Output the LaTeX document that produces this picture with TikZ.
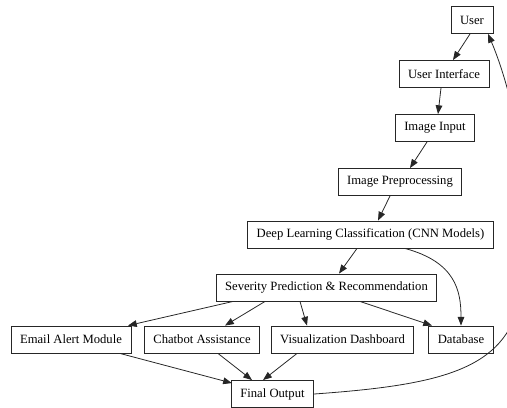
\documentclass[tikz,border=0pt]{standalone}
\usepackage{fontspec}
\setmainfont{Liberation Serif}
\usetikzlibrary{arrows.meta}
\begin{document}
\begin{tikzpicture}[x=0.02cm,y=-0.02cm,
    box/.style={draw=black!85,line width=0.5pt,minimum height=0.54cm,inner xsep=0.18cm,font=\fontsize{7.2}{8.6}\selectfont},
    edge/.style={-{Triangle[length=5pt,width=3.8pt]},line width=0.45pt,draw=black!85}]
        \useasboundingbox (0,0) rectangle (507,407);

        \node[box] (user) at (472,20) {User};
        \node[box] (ui) at (444,74) {User Interface};
        \node[box] (input) at (435,128) {Image Input};
        \node[box] (prep) at (400,182) {Image Preprocessing};
        \node[box] (dl) at (370.5,234.5) {Deep Learning Classification (CNN Models)};
        \node[box] (sev) at (326.5,287.5) {Severity Prediction \& Recommendation};
        \node[box] (email) at (71,339.5) {Email Alert Module};
        \node[box] (chat) at (202,339.5) {Chatbot Assistance};
        \node[box] (vis) at (342.5,339.5) {Visualization Dashboard};
        \node[box] (db) at (461,339.5) {Database};
        \node[box] (final) at (272.5,394) {Final Output};

        \draw[edge] ([xshift=-0.04cm]user.south) -- ([xshift=0.18cm]ui.north);
        \draw[edge] ([xshift=-0.06cm]ui.south) -- ([xshift=0.06cm]input.north);
        \draw[edge] ([xshift=-0.16cm]input.south) -- ([xshift=0.2cm]prep.north);
        \draw[edge] ([xshift=-0.2cm]prep.south) -- ([xshift=0.15cm]dl.north);
        \draw[edge] ([xshift=-0.27cm]dl.south) -- ([xshift=0.25cm]sev.north);
        \draw[edge] ([xshift=0.69cm]dl.south) .. controls (455,262) and (461,290) .. (db.north);

        \draw[edge] ([xshift=-1.87cm]sev.south) -- ([xshift=1.14cm]email.north);
        \draw[edge] ([xshift=-1.23cm]sev.south) -- ([xshift=0.46cm]chat.north);
        \draw[edge] ([xshift=-0.53cm]sev.south) -- ([xshift=-0.71cm]vis.north);
        \draw[edge] ([xshift=0.67cm]sev.south) -- ([xshift=-0.58cm]db.north);

        \draw[edge] ([xshift=0.98cm]email.south) -- ([xshift=0.02cm,yshift=-0.06cm]final.north west);
        \draw[edge] ([xshift=0.32cm]chat.south) -- ([xshift=-0.41cm]final.north);
        \draw[edge] ([xshift=-0.91cm]vis.south) -- ([xshift=-0.19cm]final.north);

        \draw[edge] (final.east) .. controls (440,385) and (505,370) .. (520,300)
            .. controls (541,200) and (510,85) .. ([xshift=0.32cm]user.south);
\end{tikzpicture}
\end{document}
